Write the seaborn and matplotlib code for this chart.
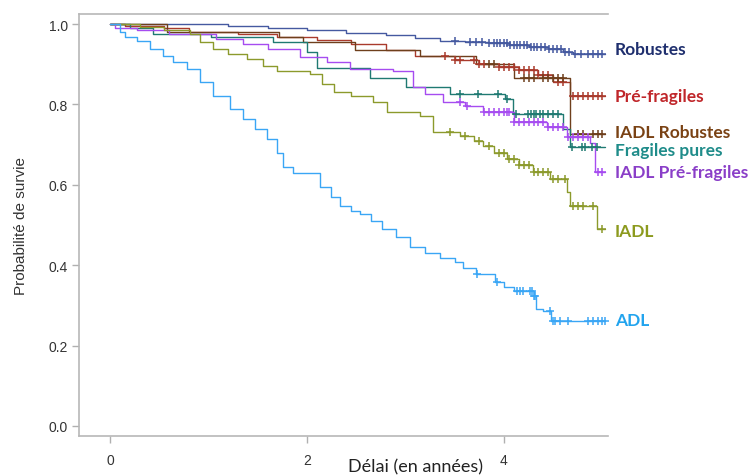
import numpy as np
import matplotlib
matplotlib.use("Agg")
import matplotlib.pyplot as plt
import seaborn as sns

# --- Kaplan-Meier curves ---
groups = ["Robustes", "Pré-fragiles", "IADL Robustes", "Fragiles pures",
          "IADL Pré-fragiles", "IADL", "ADL"]

t_end = 5.03

rob_t = [0, 1.2, 1.6, 2.0, 2.4, 2.8, 3.1, 3.35, 3.6, 3.85, 4.05, 4.25, 4.45, 4.6, 4.7]
rob_s = [1.0, 0.995, 0.99, 0.985, 0.978, 0.972, 0.965, 0.958, 0.955, 0.952, 0.948,
         0.943, 0.937, 0.93, 0.925]
rob_c = [3.5, 3.65, 3.72, 3.78, 3.85, 3.9, 3.93, 3.96, 4.0, 4.03, 4.06, 4.1, 4.13,
         4.16, 4.2, 4.23, 4.27, 4.3, 4.34, 4.38, 4.42, 4.46, 4.5, 4.54, 4.58, 4.62,
         4.66, 4.72, 4.78, 4.85, 4.9, 4.95, 5.0]

pre_t = [0, 0.15, 0.55, 0.8, 1.3, 1.7, 2.1, 2.45, 2.8, 3.1, 3.5, 3.75, 3.95, 4.15,
         4.35, 4.5, 4.67]
pre_s = [1.0, 0.995, 0.99, 0.98, 0.975, 0.968, 0.96, 0.95, 0.935, 0.92, 0.91, 0.9,
         0.893, 0.885, 0.872, 0.855, 0.822]
pre_c = [3.4, 3.5, 3.55, 3.7, 3.75, 3.8, 3.95, 4.0, 4.05, 4.1, 4.15, 4.2, 4.25, 4.3,
         4.35, 4.4, 4.45, 4.55, 4.6, 4.7, 4.75, 4.8, 4.85, 4.9, 4.95, 5.0]

iar_t = [0, 0.58, 1.72, 1.96, 2.49, 3.15, 3.72, 4.1, 4.67]
iar_s = [1.0, 0.98, 0.968, 0.955, 0.935, 0.92, 0.90, 0.865, 0.726]
iar_c = [3.85, 3.9, 4.2, 4.25, 4.3, 4.4, 4.45, 4.5, 4.55, 4.6, 4.75, 4.8, 4.9,
         4.95, 5.0]

fra_t = [0, 0.2, 0.44, 1.03, 1.65, 2.0, 2.1, 2.64, 3.01, 3.45, 4.01, 4.09, 4.6, 4.67]
fra_s = [1.0, 0.99, 0.975, 0.968, 0.955, 0.93, 0.89, 0.865, 0.843, 0.826, 0.813,
         0.776, 0.739, 0.694]
fra_c = [3.55, 3.74, 3.94, 4.03, 4.12, 4.24, 4.27, 4.3, 4.33, 4.37, 4.4, 4.45,
         4.5, 4.55, 4.69, 4.79, 4.82, 4.89, 4.94]

iap_t = [0, 0.05, 0.27, 0.6, 1.08, 1.35, 1.6, 1.93, 2.2, 2.44, 2.87, 3.08, 3.2,
         3.38, 3.6, 3.79, 4.1, 4.44, 4.64, 4.87, 4.92]
iap_s = [1.0, 0.99, 0.985, 0.975, 0.963, 0.95, 0.938, 0.918, 0.905, 0.888, 0.883,
         0.843, 0.825, 0.806, 0.795, 0.781, 0.756, 0.743, 0.72, 0.705, 0.632]
iap_c = [3.55, 3.62, 3.8, 3.85, 3.9, 3.95, 4.0, 4.03, 4.05, 4.1, 4.15, 4.2, 4.25,
         4.3, 4.35, 4.4, 4.45, 4.5, 4.55, 4.6, 4.65, 4.7, 4.75, 4.8, 4.85, 4.95, 5.0]

iadl_t = [0, 0.3, 0.55, 0.81, 0.91, 1.05, 1.2, 1.39, 1.55, 1.7, 2.03, 2.15, 2.27,
          2.45, 2.67, 2.81, 3.15, 3.28, 3.55, 3.7, 3.79, 3.9, 4.03, 4.15, 4.29,
          4.47, 4.64, 4.67, 4.94]
iadl_s = [1.0, 0.993, 0.985, 0.975, 0.955, 0.938, 0.925, 0.913, 0.895, 0.883,
          0.876, 0.85, 0.831, 0.82, 0.806, 0.781, 0.771, 0.731, 0.721, 0.71, 0.697,
          0.68, 0.664, 0.65, 0.632, 0.614, 0.582, 0.547, 0.49]
iadl_c = [3.45, 3.6, 3.75, 3.85, 3.95, 4.0, 4.05, 4.1, 4.15, 4.2, 4.25, 4.3, 4.35,
          4.4, 4.45, 4.5, 4.55, 4.62, 4.7, 4.75, 4.8, 4.9, 5.0]

adl_t = [0, 0.1, 0.15, 0.27, 0.41, 0.54, 0.64, 0.78, 0.91, 1.05, 1.22, 1.35, 1.47,
         1.59, 1.7, 1.76, 1.86, 2.13, 2.24, 2.34, 2.45, 2.54, 2.65, 2.76, 2.9, 3.05,
         3.2, 3.35, 3.5, 3.58, 3.72, 3.91, 4.0, 4.1, 4.3, 4.33, 4.4, 4.48]
adl_s = [1.0, 0.98, 0.968, 0.958, 0.938, 0.92, 0.905, 0.888, 0.856, 0.82, 0.789,
         0.764, 0.74, 0.714, 0.68, 0.644, 0.629, 0.594, 0.57, 0.547, 0.535, 0.527,
         0.51, 0.49, 0.47, 0.445, 0.43, 0.418, 0.408, 0.393, 0.378, 0.358, 0.346,
         0.336, 0.323, 0.291, 0.286, 0.261]
adl_c = [3.73, 3.93, 4.13, 4.16, 4.19, 4.26, 4.28, 4.3, 4.31, 4.47, 4.5, 4.52,
         4.57, 4.65, 4.85, 4.9, 4.95, 4.99, 5.03]

curves = {
    "Robustes": (rob_t, rob_s, rob_c),
    "Pré-fragiles": (pre_t, pre_s, pre_c),
    "IADL Robustes": (iar_t, iar_s, iar_c),
    "Fragiles pures": (fra_t, fra_s, fra_c),
    "IADL Pré-fragiles": (iap_t, iap_s, iap_c),
    "IADL": (iadl_t, iadl_s, iadl_c),
    "ADL": (adl_t, adl_s, adl_c),
}

line_colors = {"Robustes": "#4559a0", "Pré-fragiles": "#a93a2c",
               "IADL Robustes": "#6e3f1c", "Fragiles pures": "#1f7a72",
               "IADL Pré-fragiles": "#a64cf0", "IADL": "#8c9a2c", "ADL": "#3aa6f5"}
text_colors = {"Robustes": "#1f2f6e", "Pré-fragiles": "#c0262a",
               "IADL Robustes": "#7a4214", "Fragiles pures": "#1f8c8a",
               "IADL Pré-fragiles": "#8a3ec8", "IADL": "#8c9a1e", "ADL": "#22a4ee"}
# small vertical nudges so the end labels do not collide
label_nudge = {"Robustes": 0.013, "Pré-fragiles": 0.0, "IADL Robustes": 0.005,
               "Fragiles pures": -0.007, "IADL Pré-fragiles": 0.0, "IADL": -0.005,
               "ADL": 0.003}

sns.set_theme(style="ticks")
plt.rcParams["font.family"] = ["Liberation Sans", "DejaVu Sans"]

fig = plt.figure(figsize=(7.55, 4.77), dpi=100)
ax = fig.add_axes([0.1046, 0.0839, 0.7007, 0.8847])

for g in groups:
    t, s, c = curves[g]
    tt = list(t) + [t_end]
    ss = list(s) + [s[-1]]
    sns.lineplot(x=tt, y=ss, drawstyle="steps-post", color=line_colors[g],
                 linewidth=1.0, estimator=None, sort=False, ax=ax)
    # censored observations sit on the curve
    idx = np.searchsorted(t, c, side="right") - 1
    cy = np.asarray(s)[idx]
    sns.scatterplot(x=c, y=cy, marker="+", s=28, color=line_colors[g],
                    linewidth=1.1, ax=ax, zorder=3)
    ax.text(5.127, s[-1] + label_nudge[g], g, color=text_colors[g],
            fontsize=12.5, fontweight="bold", family=["Lato", "DejaVu Sans"],
            va="center", ha="left", clip_on=False)

ax.set_xlim(-0.315, 5.056)
ax.set_ylim(-0.025, 1.025)
ax.set_xticks([0, 2, 4])
ax.set_yticks([0.0, 0.2, 0.4, 0.6, 0.8, 1.0])
ax.set_yticklabels(["0.0", "0.2", "0.4", "0.6", "0.8", "1.0"])
ax.tick_params(axis="both", direction="out", length=5, width=1, color="#b0b0b0",
               labelsize=10, labelcolor="#333333", pad=3, bottom=True, left=True)
ax.tick_params(axis="x", pad=7)
for side in ["left", "top", "bottom"]:
    ax.spines[side].set_visible(True)
    ax.spines[side].set_color("#b8b8b8")
    ax.spines[side].set_linewidth(1.2)
ax.spines["right"].set_visible(False)

ax.set_ylabel("Probabilité de survie", fontsize=11, color="#333333", labelpad=15)
ax.set_xlabel("")
fig.text(416 / 755, 1 - 467 / 477, "Délai (en années)", ha="center", va="center",
         fontsize=13, color="#222222", family=["Lato", "DejaVu Sans"])

fig.savefig("out.png", dpi=100)
